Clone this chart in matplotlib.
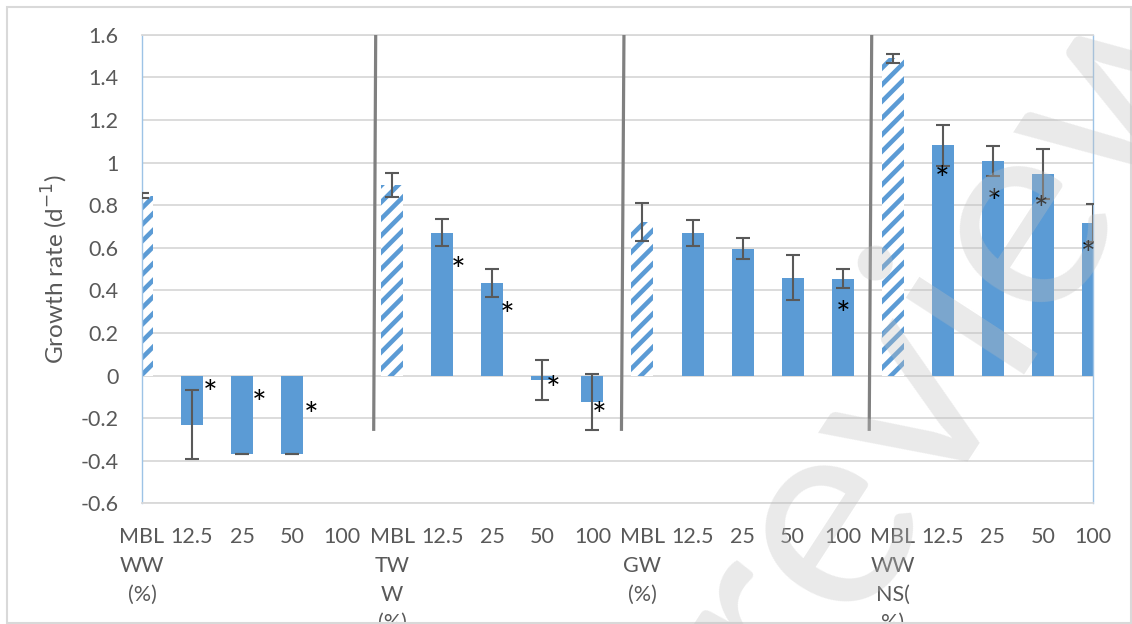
import numpy as np
import matplotlib.pyplot as plt
from matplotlib.patches import Rectangle
from matplotlib.ticker import FuncFormatter
from matplotlib.transforms import ScaledTranslation

plt.rcParams['font.family'] = ['Lato', 'DejaVu Sans']
plt.rcParams['hatch.linewidth'] = 3.3

# Growth rate per treatment: MBL control followed by 12.5/25/50/100 % dilutions
labels = ["MBL\nWW\n(%)", "12.5", "25", "50", "100",
          "MBL\nTW\nW\n(%)", "12.5", "25", "50", "100",
          "MBL\nGW\n(%)", "12.5", "25", "50", "100",
          "MBL\nWW\nNS(\n%)", "12.5", "25", "50", "100"]
growth = [0.845, -0.23, -0.37, -0.37, np.nan,
          0.895, 0.67, 0.435, -0.02, -0.125,
          0.72, 0.67, 0.595, 0.46, 0.455,
          1.489, 1.08, 1.007, 0.945, 0.715]
sd = [0.013, 0.16, 0.0, 0.0, np.nan,
      0.055, 0.063, 0.065, 0.095, 0.13,
      0.088, 0.06, 0.05, 0.105, 0.045,
      0.022, 0.095, 0.072, 0.117, 0.088]

# significance markers (x in category units, y in growth units)
star_x = [1.36, 2.34, 3.38, 6.32, 7.30, 8.22, 9.14, 14.02, 15.98, 17.02, 17.96, 18.90]
star_y = [-0.035, -0.082, -0.134, 0.545, 0.335, -0.012, -0.134, 0.336, 0.974, 0.862, 0.829, 0.622]

# dividers between the four water sources
sep_top = [4.67, 9.63, 14.58]
sep_bottom = [4.63, 9.58, 14.53]

BLUE = '#5B9BD5'
TEXT = '#595959'

fig = plt.figure(figsize=(11.32, 6.24), dpi=100)
ax = fig.add_axes([0.1254, 0.1934, 0.8401, 0.751])

x = np.arange(len(labels))
control = (x % 5 == 0)
g = np.array(growth)

ax.bar(x[~control], g[~control], width=0.44, color=BLUE, zorder=2)
ax.bar(x[control], g[control], width=0.44, color='white', edgecolor=BLUE,
       hatch='//', linewidth=0, zorder=2)
ax.errorbar(x, growth, yerr=sd, fmt='none', ecolor=TEXT, elinewidth=1.5,
            capsize=4.8, capthick=1.5, zorder=3)

for xt, xb in zip(sep_top, sep_bottom):
    ax.plot([xt, xb], [1.6, -0.26], color='#808080', lw=2.3, zorder=4,
            solid_capstyle='butt')

# asterisk glyph sits high in its line box, so nudge it down onto the point
star_shift = ax.transData + ScaledTranslation(0, -9 / 72, fig.dpi_scale_trans)
for sx, sy in zip(star_x, star_y):
    ax.text(sx, sy, '*', fontsize=25, ha='center', va='center',
            color='black', zorder=5, transform=star_shift)

ax.set_xlim(0, 19)
ax.set_ylim(-0.6, 1.6)
ax.set_yticks(np.arange(-0.6, 1.61, 0.2))
ax.yaxis.set_major_formatter(FuncFormatter(lambda v, p: f'{round(v, 1):g}' if abs(v) > 1e-9 else '0'))
ax.yaxis.grid(True, color='#D9D9D9', lw=1.3)
ax.set_axisbelow(True)

for side in ('top', 'bottom'):
    ax.spines[side].set_color('#D9D9D9')
    ax.spines[side].set_linewidth(1.3)
for side in ('left', 'right'):
    ax.spines[side].set_color('#9DC3E6')
    ax.spines[side].set_linewidth(1.0)

ax.set_xticks(x, labels)
ax.tick_params(axis='both', length=0, labelsize=15.5, labelcolor=TEXT)
ax.tick_params(axis='y', pad=17)
ax.tick_params(axis='x', pad=17)
ax.set_ylabel('Growth rate (d$^{-1}$)', fontsize=17.5, color=TEXT, labelpad=7)

border = Rectangle((7 / 1132, 1.3 / 624), 1124 / 1132, 616 / 624,
                   transform=fig.transFigure, fill=False,
                   edgecolor='#D9D9D9', lw=1.5)
fig.add_artist(border)
for lab in ax.get_xticklabels():
    lab.set_linespacing(1.55)
    lab.set_clip_path(border)

fig.text(950 / 1132, 1 - 315 / 624, 'review', rotation=57, fontsize=200,
         color='#BFBFBF', alpha=0.33, ha='center', va='center',
         rotation_mode='anchor', zorder=10)

fig.savefig('out.png', dpi=100)
